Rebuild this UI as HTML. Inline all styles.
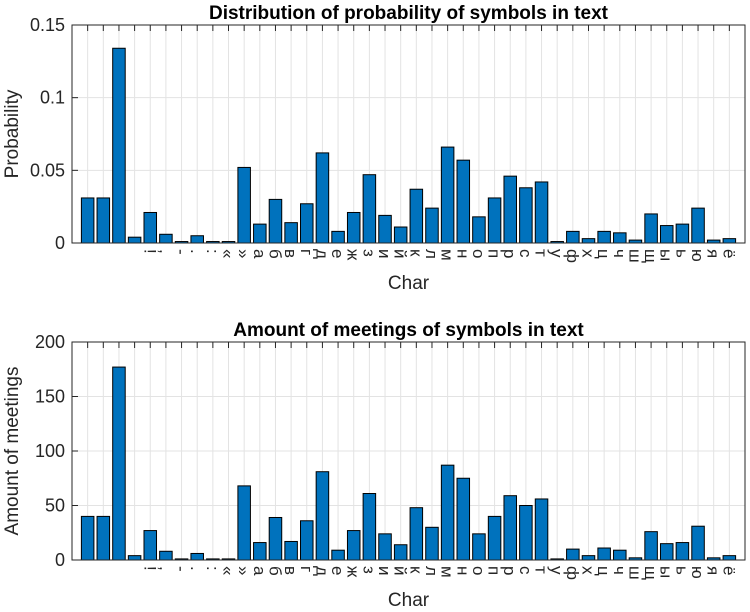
<!DOCTYPE html>
<html><head><meta charset="utf-8">
<style>
body{margin:0;background:#fff;}
svg text{font-family:"Liberation Sans","DejaVu Sans",sans-serif;}
</style></head>
<body>
<svg id="chart" width="750" height="607" xmlns="http://www.w3.org/2000/svg"></svg>
<script>
const categories = [" ","\u00a0","\u2003","\u2002","!",",","-",".",":","«","»","а","б","в","г","д","е","ж","з","и","й","к","л","м","н","о","п","р","с","т","у","ф","х","ц","ч","ш","щ","ы","ь","ю","я","ё"];
const probValues = [0.031,0.031,0.134,0.004,0.021,0.006,0.001,0.005,0.001,0.001,0.052,0.013,0.030,0.014,0.027,0.062,0.008,0.021,0.047,0.019,0.011,0.037,0.024,0.066,0.057,0.018,0.031,0.046,0.038,0.042,0.001,0.008,0.003,0.008,0.007,0.002,0.020,0.012,0.013,0.024,0.002,0.003];
const countValues = [40,40,177,4,27,8,1,6,1,1,68,16,39,17,36,81,9,27,61,24,14,48,30,87,75,24,40,59,50,56,1,10,4,11,9,2,26,15,16,31,2,4];
const probTicks = [0,0.05,0.1,0.15];
const probTickLabels = ["0","0.05","0.1","0.15"];
const countTicks = [0,50,100,150,200];
const countTickLabels = ["0","50","100","150","200"];

const NS="http://www.w3.org/2000/svg";
const svg=document.getElementById('chart');
function mk(tag,attrs,parent){const e=document.createElementNS(NS,tag);for(const k in attrs)e.setAttribute(k,attrs[k]);(parent||svg).appendChild(e);return e;}

function drawPanel(name,top,bottom,ymax,values,ticks,tickLabels,title,ylabel){
  const L=72,R=745,n=values.length;
  const g=mk('g',{});
  
  
  const xs=i=>L+(i+1)*(R-L)/(n+1);
  const ys=v=>bottom-v/ymax*(bottom-top);
  const bw=0.8*(R-L)/(n+1);
  for(let i=0;i<n;i++){
    const l=mk('line',{x1:xs(i),x2:xs(i),y1:top,y2:bottom,stroke:'#e3e3e3','stroke-width':1},g);
    
    
  }
  ticks.forEach((t,j)=>{
    const l=mk('line',{x1:L,x2:R,y1:ys(t),y2:ys(t),stroke:'#e3e3e3','stroke-width':1},g);
    
    
    const tk=mk('line',{x1:L,x2:L+6,y1:ys(t),y2:ys(t),stroke:'#262626'},g);
    
    
    const tx=mk('text',{x:L-7,y:ys(t)+6,'text-anchor':'end','font-size':18,fill:'#262626'},g);
    tx.textContent=tickLabels[j];
    
    
  });
  values.forEach((v,i)=>{
    const r=mk('rect',{x:xs(i)-bw/2,y:ys(v),width:bw,height:bottom-ys(v),fill:'#0072BD',stroke:'#000','stroke-width':1},g);
    
    
    const tk=mk('line',{x1:xs(i),x2:xs(i),y1:top,y2:top+6,stroke:'#262626'},g);
    
    
    const tl=mk('text',{x:0,y:0,'font-size':17,fill:'#262626',transform:`translate(${xs(i)-6},${bottom+6}) rotate(90)`},g);
    tl.textContent=categories[i]||'';
    
    
  });
  const box=mk('rect',{x:L,y:top,width:R-L,height:bottom-top,fill:'none',stroke:'#262626','stroke-width':1},g);
  
  
  const t=mk('text',{x:(L+R)/2,y:top-6,'text-anchor':'middle','font-size':19,'font-weight':'bold',fill:'#000'},g);
  t.textContent=title;
  
  
  const xl=mk('text',{x:(L+R)/2,y:bottom+46,'text-anchor':'middle','font-size':19,fill:'#262626'},g);
  xl.textContent='Char';
  
  
  const yl=mk('text',{x:0,y:0,'text-anchor':'middle','font-size':19,fill:'#262626',transform:`translate(18,${(top+bottom)/2}) rotate(-90)`},g);
  yl.textContent=ylabel;
  
  
}
drawPanel('probability-panel',25,243,0.15,probValues,probTicks,probTickLabels,'Distribution of probability of symbols in text','Probability');
drawPanel('meetings-panel',342,560,200,countValues,countTicks,countTickLabels,'Amount of meetings of symbols in text','Amount of meetings');
</script>
</body></html>
